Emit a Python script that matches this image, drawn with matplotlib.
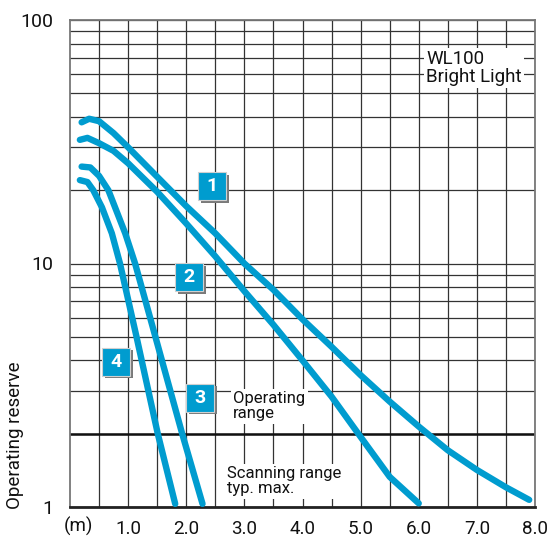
import numpy as np
import matplotlib
matplotlib.use("Agg")
import matplotlib.pyplot as plt
import matplotlib.transforms as mtransforms
from matplotlib.ticker import LogLocator, NullFormatter

plt.rcParams['font.family'] = ['Roboto', 'DejaVu Sans']

# ---- data ----
c1_x = [0.20, 0.33, 0.50, 0.75, 1.00, 1.50, 2.00, 2.50, 3.00, 3.50, 4.00, 4.50, 5.00, 5.50, 6.00, 6.50, 7.00, 7.50, 7.90]
c1_y = [38.0, 39.3, 38.4, 34.3, 30.0, 22.7, 17.2, 13.3, 10.0, 7.8, 5.9, 4.55, 3.48, 2.71, 2.14, 1.71, 1.42, 1.205, 1.07]

c2_x = [0.17, 0.30, 0.50, 0.75, 1.00, 1.50, 2.00, 2.50, 3.00, 3.50, 4.00, 4.50, 5.00, 5.50, 6.00]
c2_y = [32.2, 32.8, 31.2, 29.0, 25.8, 19.7, 14.6, 10.7, 7.7, 5.6, 4.0, 2.84, 1.94, 1.33, 1.035]

c3_x = [0.20, 0.35, 0.50, 0.66, 0.95, 1.12, 1.44, 1.93, 2.28]
c3_y = [25.0, 24.8, 22.9, 20.0, 13.3, 10.0, 5.3, 2.0, 1.03]

c4_x = [0.17, 0.30, 0.40, 0.55, 0.72, 0.86, 1.15, 1.51, 1.81]
c4_y = [22.0, 21.6, 20.0, 17.0, 13.3, 10.0, 4.93, 2.0, 1.03]

curves = [(c1_x, c1_y), (c2_x, c2_y), (c3_x, c3_y), (c4_x, c4_y)]

box_labels = ['1', '2', '3', '4']
box_x = [2.45, 2.05, 2.24, 0.80]
box_y = [20.8, 8.8, 2.81, 3.94]

x_ticks = [1, 2, 3, 4, 5, 6, 7, 8]
x_ticklabels = ['1.0', '2.0', '3.0', '4.0', '5.0', '6.0', '7.0', '8.0']
y_ticks = [1, 10, 100]
y_ticklabels = ['1', '10', '100']

BLUE = '#009ccf'

fig = plt.figure(figsize=(5.5, 5.37), dpi=100)
ax = fig.add_axes([70/550, 30/537, 465/550, 487/537])

ax.set_yscale('log')
ax.set_xlim(0, 8)
ax.set_ylim(1, 100)

ax.set_xticks(x_ticks)
ax.set_xticklabels(x_ticklabels)
ax.set_xticks(np.arange(0.5, 8.0, 0.5), minor=True)
ax.set_yticks(y_ticks)
ax.set_yticklabels(y_ticklabels)
ax.yaxis.set_minor_locator(LogLocator(base=10, subs=range(2, 10)))
ax.yaxis.set_minor_formatter(NullFormatter())

ax.tick_params(which='both', length=0)
ax.tick_params(axis='x', pad=9, labelsize=13.5, labelcolor='#111111')
ax.tick_params(axis='y', pad=12, labelsize=14, labelcolor='#111111')

ax.grid(which='both', color='#333333', linewidth=0.9)
ax.set_axisbelow(True)
ax.axhline(2, color='#111111', linewidth=1.8, zorder=1.5)

for side in ['left', 'right', 'top']:
    ax.spines[side].set_color('#777777')
    ax.spines[side].set_linewidth(1.3)
ax.spines['bottom'].set_color('#222222')
ax.spines['bottom'].set_linewidth(2.0)

for xs, ys in curves:
    ax.plot(xs, ys, color=BLUE, linewidth=4.6, solid_capstyle='round',
            solid_joinstyle='round', zorder=3)

shadow = mtransforms.offset_copy(ax.transData, fig=fig, x=2.5, y=-2.5, units='dots')
for lab, bx, by in zip(box_labels, box_x, box_y):
    ax.plot([bx], [by], marker='s', markersize=20, color='#7a7a7a',
            markeredgewidth=0, transform=shadow, zorder=4)
    ax.plot([bx], [by], marker='s', markersize=20, color=BLUE,
            markeredgecolor='#d0d0d0', markeredgewidth=0.8, zorder=5)
    ax.text(bx, by, lab, color='white', fontsize=14, fontweight='bold',
            ha='center', va='center', zorder=6)


def px2x(px):
    return (px - 70) / 465 * 8


def py2y(py):
    return 10 ** ((507 - py) / 243.5)


txt_kw = dict(fontsize=12, color='#111111', linespacing=1.0, zorder=6,
              bbox=dict(boxstyle='square,pad=0.15', fc='white', ec='none'))
ax.text(px2x(233), py2y(391), 'Operating\nrange', ha='left', va='top', **txt_kw)
ax.text(px2x(227), py2y(466), 'Scanning range\ntyp. max.', ha='left', va='top', **txt_kw)
ax.text(px2x(426), py2y(50), 'WL100\nBright Light', ha='left', va='top',
        fontsize=13.5, color='#111111', linespacing=1.0, zorder=6,
        bbox=dict(boxstyle='square,pad=0.12', fc='white', ec='none'))

fig.text(78/550, 1 - 526/537, '(m)', ha='center', va='center', fontsize=13.5,
         color='#111111')
fig.text(15/550, 1 - 435/537, 'Operating reserve', rotation=90,
         ha='center', va='center', fontsize=13.5, color='#111111')

fig.savefig('out.png', dpi=100)
